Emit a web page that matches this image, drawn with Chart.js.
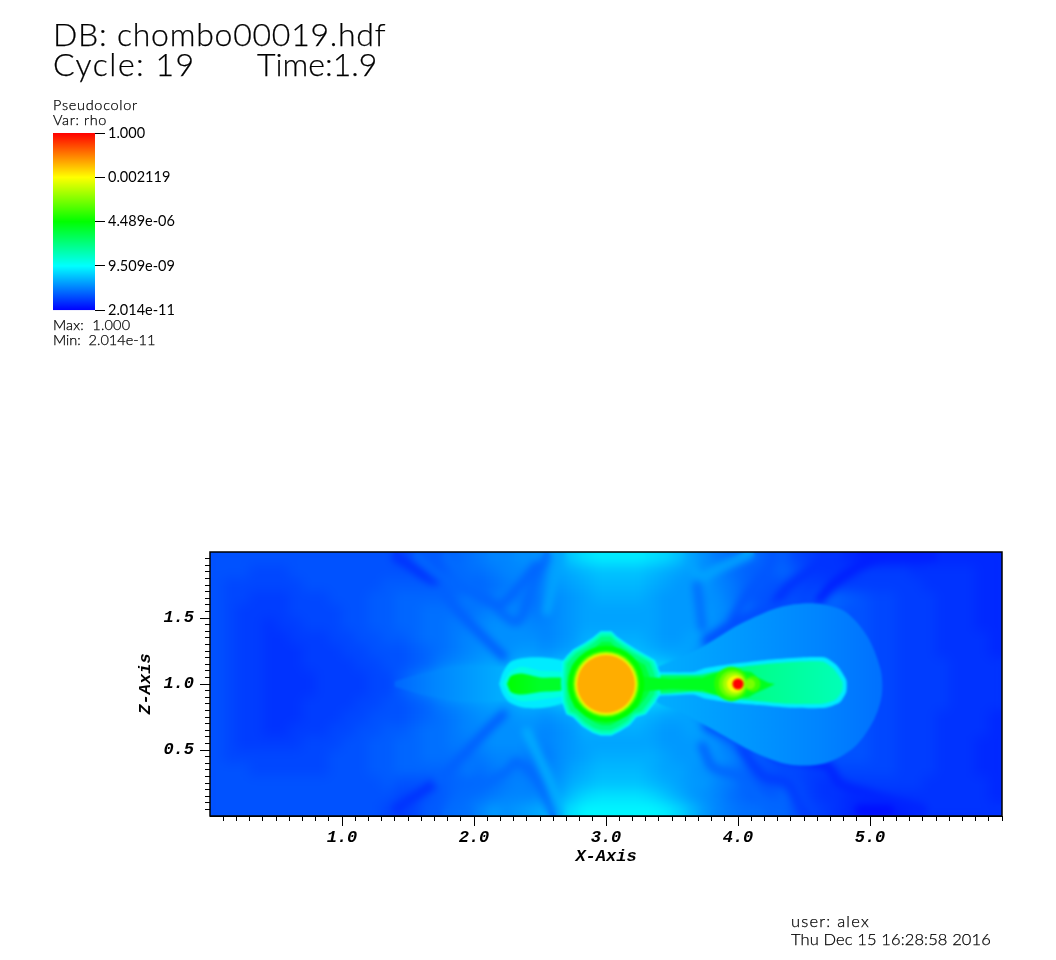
<!DOCTYPE html>
<html>
<head>
<meta charset="utf-8">
<title>chombo00019 rho</title>
<script src="https://cdn.jsdelivr.net/npm/chart.js@4/dist/chart.umd.min.js"></script>
<style>
  html, body { margin: 0; padding: 0; background: #fff; }
  #page { position: relative; width: 1056px; height: 960px; overflow: hidden; }
  canvas { position: absolute; }
  .txt { position: absolute; white-space: pre; color: #000; font-family: Lato, sans-serif; font-weight: 300; line-height: 1; -webkit-text-stroke: 0.25px #000; }
  .big { font-size: 32px; }
  .mid { font-size: 14.5px; }
  .foot { font-size: 16.5px; }
</style>
</head>
<body>
<div id="page">
  <canvas id="field" width="1056" height="960" style="left:0;top:0"></canvas>
  <canvas id="bar" width="140" height="202" style="left:53px;top:120px"></canvas>
  <div class="txt big" style="left:53px;top:18px;letter-spacing:0.75px">DB: chombo00019.hdf</div>
  <div class="txt big" style="left:53px;top:48px;letter-spacing:1.5px">Cycle: 19</div>
  <div class="txt big" style="left:257px;top:48px">Time:1.9</div>
  <div class="txt mid" style="left:53px;top:98px;letter-spacing:0.7px">Pseudocolor</div>
  <div class="txt mid" style="left:53px;top:113px;letter-spacing:0.6px">Var: rho</div>
  <div class="txt mid" style="left:53px;top:318px;letter-spacing:0.2px">Max:  1.000</div>
  <div class="txt mid" style="left:53px;top:333px">Min:  2.014e-11</div>
  <div class="txt foot" style="left:791px;top:913px;letter-spacing:1.2px">user: alex</div>
  <div class="txt foot" style="left:791px;top:931px;letter-spacing:0.12px">Thu Dec 15 16:28:58 2016</div>
</div>
<script>
// colour bar
const barLabels = ['2.014e-11', '9.509e-09', '4.489e-06', '0.002119', '1.000'];
const barTicks = [0, 25, 50, 75, 100];

// log rho as percent of the colour bar. rows run z=1.95 down to 0.05, columns x=0.05 to 5.95
const rhoRows = [
  [8,8,8,8,8,8,8,8,8,8, 8,8,8,8,7,8,9,9,10,11, 12,13,13,14,14,15,17,20,22,23, 23,23,23,22,21,19,16,14,12,11, 10,10,9,9,7,6,5,5,4,3, 3,3,3,3,4,4,4,4,4,4],
  [8,8,8,7,7,7,8,8,8,8, 8,8,8,8,8,8,8,9,10,11, 11,12,13,13,13,14,16,17,18,19, 19,19,19,18,17,16,15,14,13,11, 10,9,9,10,8,6,5,5,5,6, 6,6,6,5,5,5,5,5,4,4],
  [8,7,7,7,7,7,7,8,8,8, 8,8,8,9,9,9,9,9,10,10, 10,11,12,13,12,13,15,16,17,18, 18,18,18,17,16,15,15,15,13,12, 10,9,8,8,7,6,6,6,6,6, 6,6,6,6,5,5,5,5,4,4],
  [8,7,7,6,6,6,7,7,7,8, 8,8,9,9,10,10,10,10,10,12, 11,12,13,12,11,13,14,15,16,17, 17,17,17,16,15,15,15,14,14,12, 10,8,8,7,7,7,10,10,9,8, 7,7,6,6,6,5,5,5,4,4],
  [8,7,6,6,6,6,7,7,7,7, 8,8,9,9,10,10,11,11,11,11, 12,13,13,13,12,12,14,15,16,16, 16,16,16,16,15,15,15,15,14,13, 11,9,8,7,7,7,9,9,8,8, 7,7,6,6,6,5,5,5,4,4],
  [8,7,6,6,5,6,6,7,7,7, 8,8,9,9,10,10,11,11,12,12, 13,14,14,14,13,13,14,15,16,16, 16,16,16,16,15,15,15,15,14,11, 9,8,8,8,8,8,9,9,8,8, 7,7,6,6,6,5,5,5,4,4],
  [8,7,6,6,5,5,6,6,6,7, 7,8,8,9,9,10,11,11,12,13, 13,14,14,14,14,13,14,15,17,17, 17,17,17,16,15,15,16,15,12,10, 9,9,9,9,9,9,9,9,8,8, 7,7,6,6,6,5,5,5,5,4],
  [8,7,6,6,5,5,5,6,6,6, 7,7,8,8,8,9,10,11,12,13, 14,14,14,15,15,14,15,16,18,18, 18,18,18,17,16,16,16,13,11,11, 10,10,10,10,10,10,10,9,8,8, 7,7,6,6,6,5,5,5,5,4],
  [8,7,6,6,5,5,5,6,6,6, 6,7,7,8,8,9,10,12,13,14, 15,16,15,17,17,17,18,19,20,20, 20,20,20,20,19,17,15,12,12,12, 11,11,11,11,11,11,10,10,8,8, 7,7,6,6,6,6,5,5,5,5],
  [8,7,6,6,5,5,5,5,6,6, 6,6,7,7,9,11,13,15,17,18, 18,18,20,24,26,28,30,33,35,36, 36,36,34,30,26,24,26,28,30,30, 26,25,12,12,12,11,10,10,8,8, 7,7,6,6,6,6,5,5,5,5],
  [8,7,6,6,5,5,5,5,6,6, 6,6,7,7,9,11,13,15,17,18, 18,18,20,24,26,28,30,33,35,36, 36,36,34,30,26,24,26,28,30,30, 26,25,12,12,12,11,10,10,8,8, 7,7,6,6,6,6,5,5,5,5],
  [8,7,6,6,5,5,5,6,6,6, 6,7,7,8,8,9,10,12,13,14, 15,16,15,17,17,17,18,19,20,20, 20,20,20,20,19,17,15,12,12,12, 11,11,11,11,11,11,10,10,8,8, 7,7,6,6,6,6,5,5,5,5],
  [8,7,6,6,5,5,5,6,6,6, 7,7,8,8,8,9,10,11,12,13, 14,14,14,15,15,14,15,16,18,18, 18,18,18,17,16,16,16,13,11,11, 10,10,10,10,10,10,10,9,8,8, 7,7,6,6,6,5,5,5,5,4],
  [8,7,6,6,5,5,6,6,6,7, 7,8,8,9,9,10,11,11,12,13, 13,14,14,14,14,13,14,15,17,17, 17,17,17,16,15,15,16,15,12,10, 9,9,9,9,9,9,9,9,8,8, 7,7,6,6,6,5,5,5,5,4],
  [8,7,6,6,6,6,6,7,7,7, 8,8,9,9,10,10,11,11,12,12, 13,14,14,14,13,13,14,15,16,16, 16,16,16,16,15,15,15,15,14,11, 9,8,8,8,8,8,9,9,8,8, 7,7,6,6,6,5,5,5,4,4],
  [8,7,7,7,7,7,7,7,7,8, 8,8,9,9,10,10,11,11,11,11, 12,13,13,13,12,12,14,15,16,17, 17,17,17,17,16,15,15,15,14,13, 11,9,8,7,7,7,8,8,8,8, 7,7,6,6,6,5,5,5,4,4],
  [8,8,8,7,7,7,7,7,7,8, 8,8,9,9,10,10,10,10,10,12, 11,12,13,12,11,13,14,16,17,18, 18,18,18,17,16,16,15,14,14,12, 10,8,8,7,7,6,6,7,7,7, 7,7,6,6,6,5,5,5,4,4],
  [8,8,8,8,8,8,8,8,8,8, 8,8,8,9,8,8,8,9,10,10, 10,11,12,13,12,13,15,17,18,19, 19,19,19,18,17,16,15,15,13,12, 10,9,8,8,7,6,5,5,6,6, 6,6,6,6,5,5,5,5,5,4],
  [8,8,8,8,8,8,8,8,8,8, 8,8,8,8,7,7,8,9,10,11, 11,12,13,13,13,14,16,19,21,22, 22,22,22,21,19,17,15,14,13,11, 10,9,9,10,8,6,5,5,4,4, 5,5,5,5,5,5,5,5,5,4],
  [8,8,8,8,8,8,8,8,8,8, 8,8,8,7,6,7,9,9,11,11, 13,15,14,15,16,17,20,22,24,24, 24,24,24,24,23,21,18,15,13,12, 11,11,10,10,8,7,6,5,4,3, 2,3,3,4,5,5,5,5,5,5]
];

// ridges and troughs in the lobes above and below the jets
const stripeX = [
  [1.41,1.51,1.64,1.74], [1.74,1.89,2.22], [1.79,1.91,2.07,2.32,2.44,2.55], [1.57,1.74,1.97,2.19,2.35,2.47], [2.65,2.60,2.55],
  [4.62,4.72,4.87,5.10,5.48], [4.26,4.37,4.57,4.67], [3.96,4.09,4.22,4.26], [3.76,4.01,4.26,4.44], [3.63,3.71,3.86,4.09], [3.69,3.73],
  [4.22,4.60,4.69,4.77,4.97,5.17,5.40], [4.92,5.15], [4.01,4.19,4.37,4.47,4.52], [3.73,3.81,4.01,4.19,4.34], [3.76,4.01,4.22],
  [1.41,1.57,1.72], [1.72,1.87,2.07,2.22], [1.79,1.91,2.25,2.32,2.47,2.60], [2.40,2.55,2.65]
];
const stripeZ = [
  [1.96,1.90,1.81,1.77], [1.73,1.54,1.21], [1.96,1.83,1.68,1.47,1.73,1.96], [1.96,1.81,1.70,1.60,1.75,1.90], [1.96,1.79,1.55],
  [1.64,1.75,1.86,1.96,1.96], [1.58,1.73,1.88,1.96], [1.50,1.71,1.86,1.96], [1.33,1.48,1.58,1.63], [1.93,1.81,1.88,1.98], [1.75,1.43],
  [0.48,0.40,0.37,0.25,0.18,0.12,0.05], [0.05,0.05], [0.53,0.30,0.25,0.07,0.01], [0.53,0.37,0.30,0.12,0.03], [0.68,0.56,0.48],
  [0.06,0.16,0.26], [0.26,0.41,0.62,0.77], [0.03,0.14,0.34,0.41,0.29,0.03], [0.64,0.31,0.03]
];
const stripeLevel = [5, 9.5, 10.5, 10, 16, 3, 5, 8.5, 7.5, 16, 11, 3.5, 1.5, 6, 10, 8, 5, 9.5, 10.5, 17];

// outlines, in axis units
const lobeX = [3.37,3.71,4.01,4.31,4.58,4.81,4.98,5.08,5.09,5.03,4.88,4.66,4.39,4.13,3.82,3.56,3.37];
const lobeZ = [1.12,1.27,1.45,1.58,1.61,1.55,1.36,1.11,0.92,0.73,0.52,0.40,0.39,0.48,0.65,0.79,0.88];
const wedgeX = [1.4,1.6,1.89,2.19,2.7,2.7,2.19,1.89,1.6,1.4];
const wedgeZ = [1.02,1.08,1.13,1.13,1.13,0.87,0.87,0.87,0.92,0.98];
const jetOuterX = [3.3,3.66,3.75,3.94,4.20,4.47,4.66,4.75,4.82,4.82,4.77,4.66,4.39,4.16,3.94,3.75,3.66,3.3];
const jetOuterZ = [1.09,1.09,1.12,1.15,1.18,1.20,1.20,1.14,1.03,0.94,0.86,0.82,0.82,0.84,0.86,0.89,0.92,0.92];
const jetInnerX = [3.3,3.70,3.95,4.20,4.47,4.64,4.72,4.79,4.79,4.74,4.64,4.39,4.16,3.94,3.70,3.3];
const jetInnerZ = [1.07,1.07,1.12,1.15,1.17,1.17,1.12,1.02,0.95,0.88,0.85,0.85,0.87,0.89,0.94,0.93];
const streamX = [3.2,3.5,3.72,3.72,3.5,3.2];
const streamZ = [1.06,1.04,1.05,0.95,0.96,0.94];
const starX = [3.68,3.82,3.95,4.10,4.15,4.23,4.28,4.22,4.13,4.08,3.95,3.82,3.68];
const starZ = [1.03,1.08,1.11,1.09,1.05,1.01,1.00,0.97,0.93,0.90,0.89,0.92,0.97];
const blobX = [2.19,2.22,2.28,2.41,2.53,2.69,2.76,2.76,2.69,2.53,2.38,2.27,2.22];
const blobZ = [1.00,1.09,1.17,1.20,1.20,1.17,1.09,0.91,0.86,0.82,0.82,0.86,0.92];
const blobMidX = [2.22,2.27,2.36,2.5,2.7,2.7,2.5,2.36,2.27];
const blobMidZ = [1.0,1.09,1.13,1.1,1.08,0.92,0.88,0.87,0.91];
const tearX = [2.25,2.28,2.36,2.5,2.7,2.7,2.5,2.36,2.28];
const tearZ = [1.0,1.06,1.08,1.05,1.04,0.96,0.94,0.92,0.94];
const shellX = [2.96,3.04,3.08,3.15,3.23,3.30,3.37,3.41,3.41,3.37,3.30,3.23,3.18,3.10,3.04,2.96,2.90,2.82,2.75,2.70,2.67,2.66,2.67,2.71,2.75,2.84,2.90];
const shellZ = [1.40,1.40,1.36,1.31,1.26,1.22,1.18,1.08,0.92,0.86,0.77,0.75,0.69,0.64,0.61,0.61,0.63,0.68,0.75,0.77,0.86,1.01,1.17,1.22,1.26,1.31,1.35];

// round bodies: centre, radius (axis units) and colour bar percent
const discX = [3, 3, 3, 3, 3.95, 3.96, 3.97, 4.11, 4.09, 3.98, 4.0];
const discZ = [1, 1, 1, 1, 1, 1, 1, 1, 1, 1, 1];
const discR = [0.29, 0.25, 0.235, 0.22, 0.13, 0.105, 0.085, 0.06, 0.04, 0.065, 0.042];
const discLevel = [50, 60, 73, 83, 54, 60, 66, 56, 62, 74, 100];

const xMajor = [1, 2, 3, 4, 5];
const zMajor = [0.5, 1, 1.5];

function jet(p) {
  if (p < 25) return 'rgb(0,' + Math.round(255 * p / 25) + ',255)';
  if (p < 50) return 'rgb(0,255,' + Math.round(255 * (50 - p) / 25) + ')';
  if (p < 75) return 'rgb(' + Math.round(255 * (p - 50) / 25) + ',255,0)';
  return 'rgb(255,' + Math.round(255 * (100 - p) / 25) + ',0)';
}

function isMajor(v, list) {
  return list.some(m => Math.abs(m - v) < 1e-6);
}

const cells = [];
rhoRows.forEach((row, r) => row.forEach((v, c) => {
  cells.push({x: 0.05 + 0.1 * c, y: 1.95 - 0.1 * r, v: v});
}));

function pxPerUnit(chart) {
  return chart.scales.x.getPixelForValue(1) - chart.scales.x.getPixelForValue(0);
}

function shape(xs, zs, level, label, tension) {
  const pts = xs.map((x, i) => ({x: x, y: zs[i]}));
  pts.push(pts[0]);
  return {
    label: label, data: pts, showLine: true, fill: 'shape', pointRadius: 0, borderWidth: 0, tension: tension || 0,
    backgroundColor: Array.isArray(level) ? (ctx => {
      const chart = ctx.chart;
      if (!chart.chartArea) return jet(level[0][1]);
      const sx = chart.scales.x;
      const g = chart.ctx.createLinearGradient(sx.getPixelForValue(level[0][0]), 0, sx.getPixelForValue(level[level.length - 1][0]), 0);
      level.forEach(s => g.addColorStop((s[0] - level[0][0]) / (level[level.length - 1][0] - level[0][0]), jet(s[1])));
      return g;
    }) : jet(level)
  };
}

// scaled copies of the lumpy shell around the central body
function shellAt(k, level, label) {
  return shape(shellX.map(x => 3 + (x - 3) * k), shellZ.map(z => 1 + (z - 1) * k), level, label);
}

const stripes = stripeX.map((xs, i) => ({
  label: 'stripe ' + i,
  data: xs.map((x, j) => ({x: x, y: stripeZ[i][j]})),
  showLine: true, fill: false, pointRadius: 0, tension: 0.3,
  borderColor: jet(stripeLevel[i]), borderWidth: 9, borderCapStyle: 'round', borderJoinStyle: 'round'
}));
stripes[stripes.length - 1].blurAfter = 3.5;

// back to front
const layers = [
  {
    label: 'rho', data: cells, pointStyle: 'rect',
    pointRadius: ctx => pxPerUnit(ctx.chart) * 0.1 * Math.SQRT1_2 + 0.5,
    pointBackgroundColor: cells.map(d => jet(d.v)),
    pointBorderWidth: 0, blurAfter: 5
  },
  ...stripes,
  shape(lobeX, lobeZ, [[3.4, 17], [4.0, 15], [4.6, 13], [5.1, 11]], 'lobe', 0.3),
  shape(wedgeX, wedgeZ, [[1.4, 10], [1.7, 13], [2.2, 17]], 'wedge'),
  shape(jetOuterX, jetOuterZ, 23, 'jet edge', 0.2),
  shape(jetInnerX, jetInnerZ, [[3.3, 40], [3.8, 40], [4.2, 36], [4.8, 32]], 'jet', 0.2),
  shape(blobX, blobZ, 23, 'blob edge', 0.3),
  shape(blobMidX, blobMidZ, 28, 'blob', 0.2),
  shape(tearX, tearZ, [[2.25, 50], [2.5, 46], [2.7, 46]], 'tear', 0.3),
  shellAt(1, 25, 'shell edge'),
  shellAt(0.97, 32, 'shell rim'),
  shellAt(0.9, 38, 'shell'),
  shellAt(0.8, 44, 'shell core'),
  shape(streamX, streamZ, 47, 'stream'),
  shape(starX, starZ, 47, 'star envelope'),
  {
    label: 'bodies',
    data: discX.map((x, i) => ({x: x, y: discZ[i], r: discR[i]})),
    pointStyle: 'circle',
    pointRadius: ctx => pxPerUnit(ctx.chart) * (ctx.raw ? ctx.raw.r : 0),
    pointBackgroundColor: discLevel.map(jet),
    pointBorderWidth: 0
  }
];
layers.forEach((d, i) => { d.order = layers.length - i; });

function softenArea(chart, px) {
  const a = chart.chartArea, ctx = chart.ctx;
  const w = a.right - a.left, h = a.bottom - a.top;
  ctx.save();
  ctx.beginPath(); ctx.rect(a.left, a.top, w, h); ctx.clip();
  ctx.filter = 'blur(' + px + 'px)';
  ctx.drawImage(chart.canvas, a.left, a.top, w, h, a.left, a.top, w, h);
  ctx.restore();
}

const softenAndFrame = {
  id: 'softenAndFrame',
  afterDatasetDraw(chart, args) {
    const px = chart.data.datasets[args.index].blurAfter;
    if (px) softenArea(chart, px);
  },
  afterDatasetsDraw(chart) {
    softenArea(chart, 0.8);
  },
  afterDraw(chart) {
    const a = chart.chartArea, ctx = chart.ctx;
    ctx.save();
    ctx.strokeStyle = '#000';
    ctx.lineWidth = 1.5;
    ctx.strokeRect(a.left, a.top, a.right - a.left, a.bottom - a.top);
    // longer ticks at the labelled values
    ctx.lineWidth = 1;
    ctx.beginPath();
    xMajor.forEach(v => {
      const p = Math.round(chart.scales.x.getPixelForValue(v)) + 0.5;
      ctx.moveTo(p, a.bottom); ctx.lineTo(p, a.bottom + 10);
    });
    zMajor.forEach(v => {
      const p = Math.round(chart.scales.y.getPixelForValue(v)) + 0.5;
      ctx.moveTo(a.left, p); ctx.lineTo(a.left - 10, p);
    });
    ctx.stroke();
    ctx.restore();
  }
};

const axisFont = {family: '"Liberation Mono", monospace', size: 17, weight: 'bold', style: 'italic'};

new Chart(document.getElementById('field'), {
  type: 'scatter',
  data: {datasets: layers},
  plugins: [softenAndFrame],
  options: {
    responsive: false,
    animation: false,
    devicePixelRatio: 1,
    events: [],
    layout: {padding: {left: 0, top: 552, right: 54, bottom: 0}},
    plugins: {legend: {display: false}, tooltip: {enabled: false}},
    scales: {
      x: {
        type: 'linear', min: 0, max: 6,
        afterFit: s => { s.height = 144; },
        afterBuildTicks: s => { s.ticks = s.ticks.filter(t => t.value > 0.01); },
        border: {color: '#000', width: 1},
        grid: {drawOnChartArea: false, color: '#000', tickLength: 5, tickWidth: 1, tickColor: '#000'},
        ticks: {
          stepSize: 0.1, autoSkip: false, maxRotation: 0, padding: 7, color: '#000', font: axisFont,
          callback: v => isMajor(v, xMajor) ? v.toFixed(1) : ''
        },
        title: {display: true, text: 'X-Axis', color: '#000', font: axisFont, padding: {top: 0, bottom: 93}}
      },
      y: {
        type: 'linear', min: 0, max: 2,
        afterFit: s => { s.width = 210; },
        afterBuildTicks: s => { s.ticks = s.ticks.filter(t => t.value > 0.01 && t.value < 1.99); },
        border: {color: '#000', width: 1},
        grid: {drawOnChartArea: false, color: '#000', tickLength: 5, tickWidth: 1, tickColor: '#000'},
        ticks: {
          stepSize: 0.05, autoSkip: false, padding: 11, color: '#000', font: axisFont,
          callback: v => isMajor(v, zMajor) ? v.toFixed(1) : ''
        },
        title: {display: true, text: 'Z-Axis', color: '#000', font: axisFont, padding: {top: 136, bottom: 0}}
      }
    }
  }
});

new Chart(document.getElementById('bar'), {
  type: 'bar',
  data: {
    labels: ['rho'],
    datasets: [{
      data: [100],
      barPercentage: 1,
      categoryPercentage: 1,
      backgroundColor: ctx => {
        const a = ctx.chart.chartArea;
        if (!a) return '#00f';
        const g = ctx.chart.ctx.createLinearGradient(0, a.bottom, 0, a.top);
        barTicks.forEach(t => g.addColorStop(t / 100, jet(t)));
        return g;
      }
    }]
  },
  options: {
    responsive: false,
    animation: false,
    devicePixelRatio: 1,
    events: [],
    layout: {padding: {left: 0, top: 13, right: 0, bottom: 10}},
    plugins: {legend: {display: false}, tooltip: {enabled: false}},
    scales: {
      x: {display: false},
      y: {
        position: 'right', min: 0, max: 100,
        afterFit: s => { s.width = 98; },
        afterBuildTicks: s => { s.ticks = barTicks.map(v => ({value: v})); },
        border: {display: false},
        grid: {drawOnChartArea: false, tickLength: 10, tickColor: '#000', tickWidth: 1},
        ticks: {
          padding: 3, color: '#000', autoSkip: false,
          font: {family: 'Lato, sans-serif', size: 14.5},
          callback: v => barLabels[barTicks.indexOf(v)]
        }
      }
    }
  }
});
</script>
</body>
</html>
